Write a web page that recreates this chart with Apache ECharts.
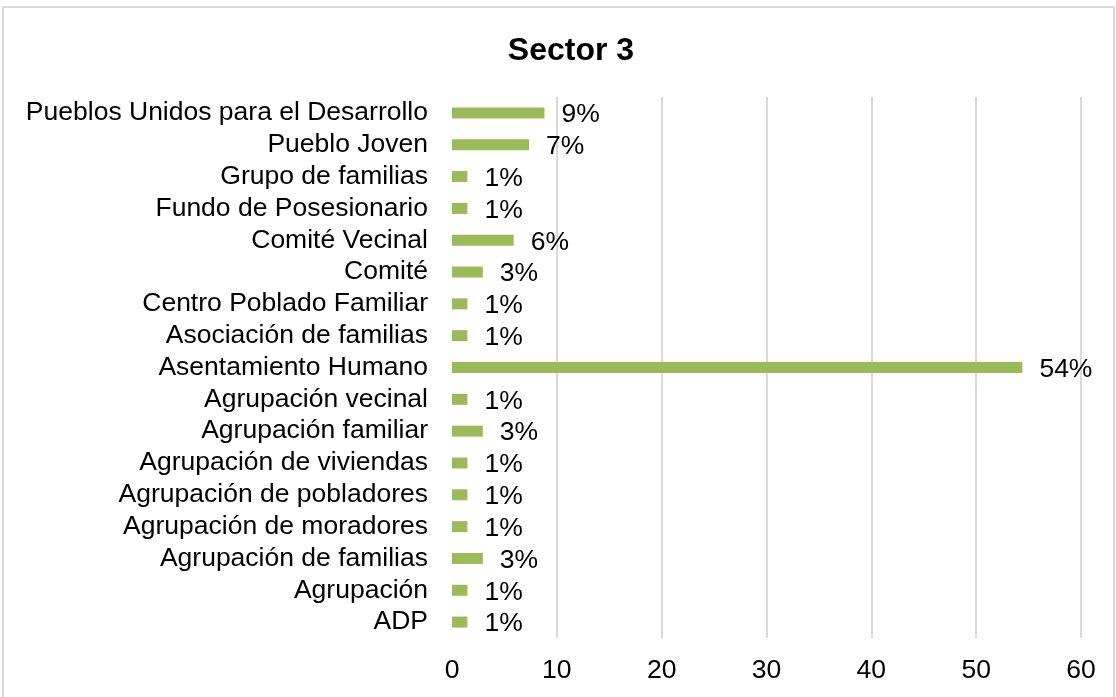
<!DOCTYPE html>
<html>
<head>
<meta charset="utf-8">
<script src="https://cdn.jsdelivr.net/npm/echarts@6/dist/echarts.min.js"></script>
<style>
  html, body { margin: 0; padding: 0; background: #fff; }
  #chart { width: 1116px; height: 697px; }
  .frame {
    position: absolute; left: 2px; top: 6px; width: 1109px; height: 720px;
    border: 2px solid #d9d9d9; pointer-events: none;
  }
</style>
</head>
<body>
<div id="chart"></div>
<div class="frame"></div>
<script>
// categorias de abajo hacia arriba
const categories = [
  "ADP",
  "Agrupación",
  "Agrupación de familias",
  "Agrupación de moradores",
  "Agrupación de pobladores",
  "Agrupación de viviendas",
  "Agrupación familiar",
  "Agrupación vecinal",
  "Asentamiento Humano",
  "Asociación de familias",
  "Centro Poblado Familiar",
  "Comité",
  "Comité Vecinal",
  "Fundo de Posesionario",
  "Grupo de familias",
  "Pueblo Joven",
  "Pueblos Unidos para el Desarrollo"
];
const values = [1.47, 1.47, 2.94, 1.47, 1.47, 1.47, 2.94, 1.47, 54.41, 1.47, 1.47, 2.94, 5.88, 1.47, 1.47, 7.35, 8.82];
const xTicks = [0, 10, 20, 30, 40, 50, 60];

const chart = echarts.init(document.getElementById("chart"));
const font = "Liberation Sans, Arial, sans-serif";

chart.setOption({
  animation: false,
  title: {
    text: "Sector 3",
    left: 566,
    textAlign: "center",
    top: 30,
    textStyle: { fontFamily: font, fontSize: 32, fontWeight: "bold", color: "#000" }
  },
  grid: { left: 452, right: 35, top: 97, bottom: 59 },
  xAxis: {
    type: "value",
    min: xTicks[0],
    max: xTicks[xTicks.length - 1],
    interval: 10,
    axisLine: { show: false },
    axisTick: { show: false },
    axisLabel: { fontFamily: font, fontSize: 26.5, color: "#000", margin: 19 },
    splitLine: {
      lineStyle: { color: ["#ffffff", "#d9d9d9", "#d9d9d9", "#d9d9d9", "#d9d9d9", "#d9d9d9", "#d9d9d9"], width: 2 }
    }
  },
  yAxis: {
    type: "category",
    data: categories,
    axisLine: { show: false },
    axisTick: { show: false },
    axisLabel: { interval: 0, fontFamily: font, fontSize: 26.5, color: "#000", margin: 24 }
  },
  series: [{
    type: "bar",
    data: values,
    barWidth: 11,
    itemStyle: { color: "#9bbb59" },
    label: {
      show: true,
      position: "right",
      distance: 17,
      offset: [0, 2],
      fontFamily: font,
      fontSize: 26.5,
      color: "#000",
      formatter: (p) => Math.round(p.value) + "%"
    }
  }]
});
</script>
</body>
</html>
